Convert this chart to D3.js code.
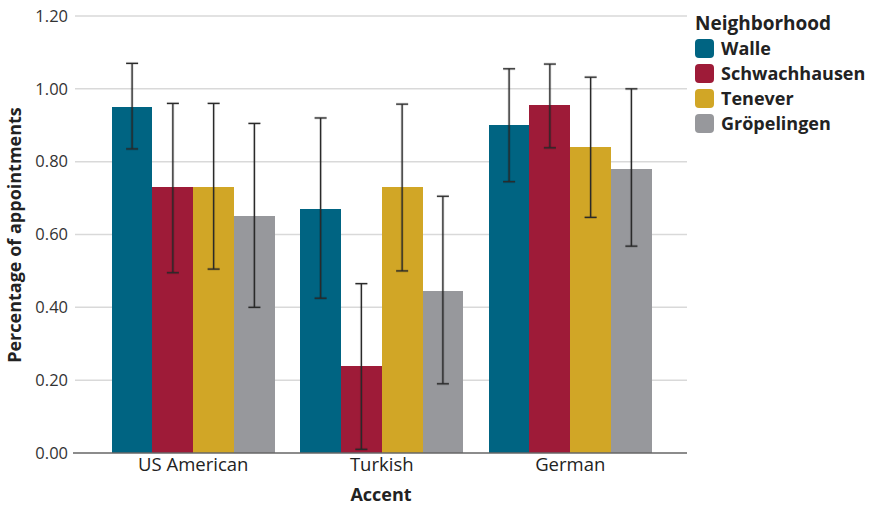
<!DOCTYPE html>
<html>
<head>
<meta charset="utf-8">
<script src="https://cdn.jsdelivr.net/npm/d3@7"></script>
<style>
  html, body { margin: 0; padding: 0; background: #fff; }
  svg { display: block; font-family: "Open Sans", "Noto Sans", sans-serif; }
</style>
</head>
<body>
<svg id="chart" width="873" height="506"></svg>
<script>
// Appointment rates by caller accent and neighborhood, with error bars
const accents = ["US American", "Turkish", "German"];
const neighborhoods = ["Walle", "Schwachhausen", "Tenever", "Gröpelingen"];
const colors = ["#006482", "#9e1b38", "#d1a626", "#97989c"];

// one array per neighborhood, ordered like `accents`
const walle         = [0.95, 0.67, 0.90];
const schwachhausen = [0.73, 0.24, 0.955];
const tenever       = [0.73, 0.73, 0.84];
const groepelingen  = [0.65, 0.445, 0.78];

const walleLow   = [0.835, 0.425, 0.745];
const walleHigh  = [1.07, 0.92, 1.055];
const schwLow    = [0.495, 0.01, 0.838];
const schwHigh   = [0.96, 0.465, 1.068];
const tenLow     = [0.505, 0.50, 0.647];
const tenHigh    = [0.96, 0.958, 1.032];
const groeLow    = [0.40, 0.19, 0.568];
const groeHigh   = [0.905, 0.705, 1.0];

const yTicks = [0, 0.2, 0.4, 0.6, 0.8, 1.0, 1.2];

const values = [walle, schwachhausen, tenever, groepelingen];
const lows = [walleLow, schwLow, tenLow, groeLow];
const highs = [walleHigh, schwHigh, tenHigh, groeHigh];

const rows = [];
accents.forEach((a, i) => {
  neighborhoods.forEach((n, j) => {
    rows.push({ accent: a, hood: n, color: colors[j],
                value: values[j][i], low: lows[j][i], high: highs[j][i] });
  });
});

const svg = d3.select("#chart");
const axisLeft = 73, axisRight = 687;

const y = d3.scaleLinear().domain([0, 1.2]).range([453, 16]);
const x0 = d3.scaleBand().domain(accents).range([99, 664.5])
  .paddingInner(0.135).paddingOuter(0.0675);
const x1 = d3.scaleBand().domain(neighborhoods).range([0, x0.bandwidth()]);

// grid
svg.append("g").selectAll("line").data(yTicks.filter(t => t > 0)).join("line")
  .attr("x1", axisLeft + 2).attr("x2", axisRight)
  .attr("y1", d => y(d)).attr("y2", d => y(d))
  .attr("stroke", "#d9d9d9").attr("stroke-width", 1.5);

// y tick labels
const yAxis = svg.append("g").attr("transform", `translate(${axisLeft},0)`)
  .call(d3.axisLeft(y).tickValues(yTicks).tickFormat(d3.format(".2f")).tickSize(0).tickPadding(5));
yAxis.select(".domain").remove();
yAxis.selectAll("text")
  .attr("font-family", "'Open Sans', sans-serif").attr("font-size", 16.5).attr("fill", "#333");

// bars
svg.append("g").attr("shape-rendering", "crispEdges")
  .selectAll("rect").data(rows).join("rect")
  .attr("x", d => x0(d.accent) + x1(d.hood))
  .attr("width", x1.bandwidth())
  .attr("y", d => y(d.value))
  .attr("height", d => y(0) - y(d.value))
  .attr("fill", d => d.color);

// error bars: soft halo underneath a dark core line
const eb = svg.append("g").selectAll("g").data(rows).join("g")
  .attr("transform", d => `translate(${x0(d.accent) + x1(d.hood) + x1.bandwidth() / 2},0)`);
const capW = 6;
[["#000", 3, 0.14], ["#2a2a2a", 1.3, 1]].forEach(([c, w, o]) => {
  eb.append("line").attr("x1", 0).attr("x2", 0)
    .attr("y1", d => y(d.low)).attr("y2", d => y(d.high))
    .attr("stroke", c).attr("stroke-width", w).attr("stroke-opacity", o);
  eb.append("line").attr("x1", -capW).attr("x2", capW)
    .attr("y1", d => y(d.high)).attr("y2", d => y(d.high))
    .attr("stroke", c).attr("stroke-width", w).attr("stroke-opacity", o);
  eb.append("line").attr("x1", -capW).attr("x2", capW)
    .attr("y1", d => y(d.low)).attr("y2", d => y(d.low))
    .attr("stroke", c).attr("stroke-width", w).attr("stroke-opacity", o);
});

// x axis
svg.append("line").attr("x1", axisLeft).attr("x2", axisRight)
  .attr("y1", y(0)).attr("y2", y(0)).attr("stroke", "#666").attr("stroke-width", 1.3);
const xAxis = svg.append("g").attr("transform", `translate(0,${y(0)})`)
  .call(d3.axisBottom(x0).tickSize(0).tickPadding(5));
xAxis.select(".domain").remove();
xAxis.selectAll("text").attr("font-family", "'Open Sans', sans-serif")
  .attr("font-size", 18.5).attr("fill", "#222");

// axis titles
svg.append("text").attr("x", 381).attr("y", 501).attr("text-anchor", "middle")
  .attr("font-size", 18).attr("font-weight", "bold").attr("fill", "#222").text("Accent");
svg.append("text").attr("transform", "translate(21,235) rotate(-90)")
  .attr("text-anchor", "middle").attr("font-size", 18).attr("font-weight", "bold")
  .attr("fill", "#222").text("Percentage of appointments");

// legend
const lg = svg.append("g").attr("transform", "translate(695,0)");
lg.append("text").attr("x", 0).attr("y", 30).attr("font-size", 19)
  .attr("font-weight", "bold").attr("fill", "#222").text("Neighborhood");
const li = lg.selectAll("g.item").data(neighborhoods).join("g").attr("class", "item")
  .attr("transform", (d, i) => `translate(0,${39 + i * 25})`);
li.append("rect").attr("width", 19).attr("height", 19).attr("rx", 4)
  .attr("fill", (d, i) => colors[i]);
li.append("text").attr("x", 26).attr("y", 16).attr("font-size", 18)
  .attr("font-weight", "bold").attr("fill", "#222").text(d => d);
</script>
</body>
</html>
